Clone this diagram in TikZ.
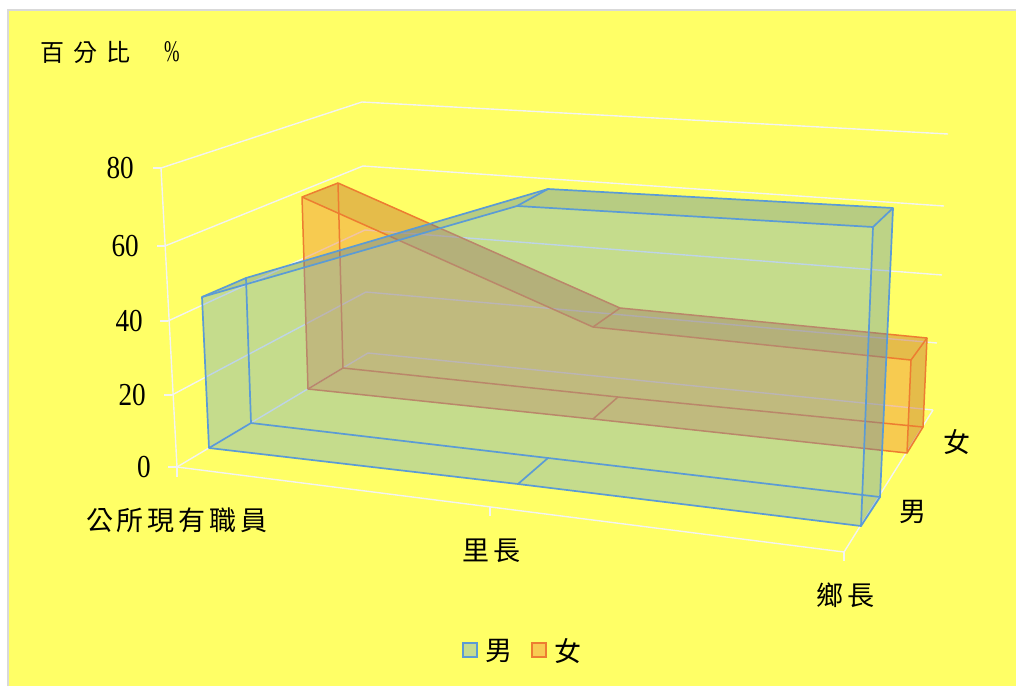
\documentclass[tikz,border=0pt]{standalone}
\usepackage{fontspec}
\usepackage{graphicx}
\setmainfont{Liberation Serif}
\newfontfamily\cjk{Noto Sans CJK TC}
\definecolor{bgy}{RGB}{255,255,102}
\definecolor{gridc}{RGB}{243,243,243}
\definecolor{bdr}{RGB}{217,217,217}
\definecolor{bl}{RGB}{91,155,213}
\definecolor{orl}{RGB}{237,125,49}
\newcommand\ylab[1]{\scalebox{0.85}[1]{\fontsize{32}{32}\selectfont #1}}
\newcommand\ck{\kern 4pt}
\tikzset{
  gridline/.style={draw=gridc, line width=1.4pt},
  manfill/.style={fill=bl, fill opacity=0.35},
  womfill/.style={fill=orl, fill opacity=0.40},
  shade/.style={fill=black, fill opacity=0.07},
  manedge/.style={draw=bl, line width=1.7pt, line join=round},
  womedge/.style={draw=orl, line width=1.5pt, line join=round},
  ylabel/.style={anchor=east, inner sep=0pt},
  cjklab/.style={font=\cjk\fontsize{27}{27}\selectfont, inner sep=0pt},
}
\begin{document}
\begin{tikzpicture}[x=1pt,y=-1pt]
\useasboundingbox (0,0) rectangle (1016,686);
\fill[white] (0,0) rectangle (1016,686);
\fill[bgy] (8,10) rectangle (1016,686);
\draw[bdr, line width=2pt] (8,686) -- (8,10) -- (1016,10);

% walls grid
\draw[gridline] (161,168) -- (362,102) -- (948,134);
\draw[gridline] (165,246) -- (363,166) -- (944,206);
\draw[gridline] (168,321) -- (365,230) -- (942,275);
\draw[gridline] (172,395) -- (366,292) -- (937,343);
\draw[gridline] (177,467) -- (368,353) -- (933,410);
% axes
\draw[gridline] (161,168) -- (177,467) -- (844,552) -- (933,410);
\draw[gridline] (153,168) -- (161,168);
\draw[gridline] (157,246) -- (165,246);
\draw[gridline] (160,321) -- (168,321);
\draw[gridline] (164,395) -- (172,395);
\draw[gridline] (168,467) -- (177,467);
\draw[gridline] (177,467) -- (177,477);
\draw[gridline] (490,507) -- (490,516);
\draw[gridline] (844,552) -- (844,561);

% ---- women series (back)
\coordinate (wf1) at (302,197); \coordinate (wf2) at (593,327); \coordinate (wf3) at (911,360);
\coordinate (wg1) at (308,389); \coordinate (wg2) at (593,419); \coordinate (wg3) at (907,453);
\coordinate (wb1) at (338,183); \coordinate (wb2) at (620,308); \coordinate (wb3) at (927,338);
\coordinate (wc1) at (343,368); \coordinate (wc2) at (618,397); \coordinate (wc3) at (923,427);
\fill[womfill] (wf1) -- (wb1) -- (wb2) -- (wb3) -- (wc3) -- (wg3) -- (wg2) -- (wg1) -- cycle;
\fill[shade] (wf1) -- (wb1) -- (wb2) -- (wb3) -- (wf3) -- (wf2) -- cycle;
\fill[shade] (wf3) -- (wb3) -- (wc3) -- (wg3) -- cycle;
\draw[womedge] (wb1) -- (wb2) -- (wb3) -- (wc3) -- (wc2) -- (wc1) -- cycle;
\draw[womedge] (wf1) -- (wb1) (wf2) -- (wb2) (wf3) -- (wb3)
               (wg1) -- (wc1) (wg2) -- (wc2) (wg3) -- (wc3);
\draw[womedge] (wf1) -- (wf2) -- (wf3) -- (wg3) -- (wg2) -- (wg1) -- cycle;

% ---- men series (front)
\coordinate (mf1) at (202,297); \coordinate (mf2) at (517,206); \coordinate (mf3) at (873,227);
\coordinate (mg1) at (209,448); \coordinate (mg2) at (518,484); \coordinate (mg3) at (861,526);
\coordinate (mb1) at (246,278); \coordinate (mb2) at (548,189); \coordinate (mb3) at (893,208);
\coordinate (mc1) at (251,423); \coordinate (mc2) at (548,458); \coordinate (mc3) at (880,497);
\fill[manfill] (mf1) -- (mb1) -- (mb2) -- (mb3) -- (mc3) -- (mg3) -- (mg2) -- (mg1) -- cycle;
\fill[shade] (mf1) -- (mb1) -- (mb2) -- (mb3) -- (mf3) -- (mf2) -- cycle;
\fill[shade, fill opacity=0.04] (mf3) -- (mb3) -- (mc3) -- (mg3) -- cycle;
\draw[manedge] (mb1) -- (mb2) -- (mb3) -- (mc3) -- (mc2) -- (mc1) -- cycle;
\draw[manedge] (mf1) -- (mb1) (mf2) -- (mb2) (mf3) -- (mb3)
               (mg1) -- (mc1) (mg2) -- (mc2) (mg3) -- (mc3);
\draw[manedge] (mf1) -- (mf2) -- (mf3) -- (mg3) -- (mg2) -- (mg1) -- cycle;

% ---- labels
\node[anchor=west, inner sep=0pt] (title) at (40,52)
  {{\cjk\fontsize{24}{24}\selectfont 百\kern9pt 分\kern9pt 比}\kern34pt\scalebox{0.62}[1]{\fontsize{30}{30}\selectfont\%}};
\node[ylabel] (y80) at (134,168) {\ylab{80}};
\node[ylabel] (y60) at (139,246) {\ylab{60}};
\node[ylabel] (y40) at (143,321) {\ylab{40}};
\node[ylabel] (y20) at (146,395) {\ylab{20}};
\node[ylabel] (y0)  at (151,467) {\ylab{0}};
\node[cjklab] (c1) at (177,520) {公\ck 所\ck 現\ck 有\ck 職\ck 員};
\node[cjklab] (c2) at (491,551) {里\ck 長};
\node[cjklab] (c3) at (845,595) {鄉\ck 長};
\node[cjklab] (s1) at (957,442) {女};
\node[cjklab] (s2) at (913,512) {男};
% legend
\node[draw=bl, line width=1.5pt, fill=bl!35!bgy, minimum size=14pt, inner sep=0pt] (lm) at (470,650) {};
\node[cjklab, anchor=west] (lmt) at (485,651) {男};
\node[draw=orl, line width=1.5pt, fill=orl!40!bgy, minimum size=14pt, inner sep=0pt] (lw) at (539,650) {};
\node[cjklab, anchor=west] (lwt) at (554,651) {女};
\end{tikzpicture}
\end{document}
